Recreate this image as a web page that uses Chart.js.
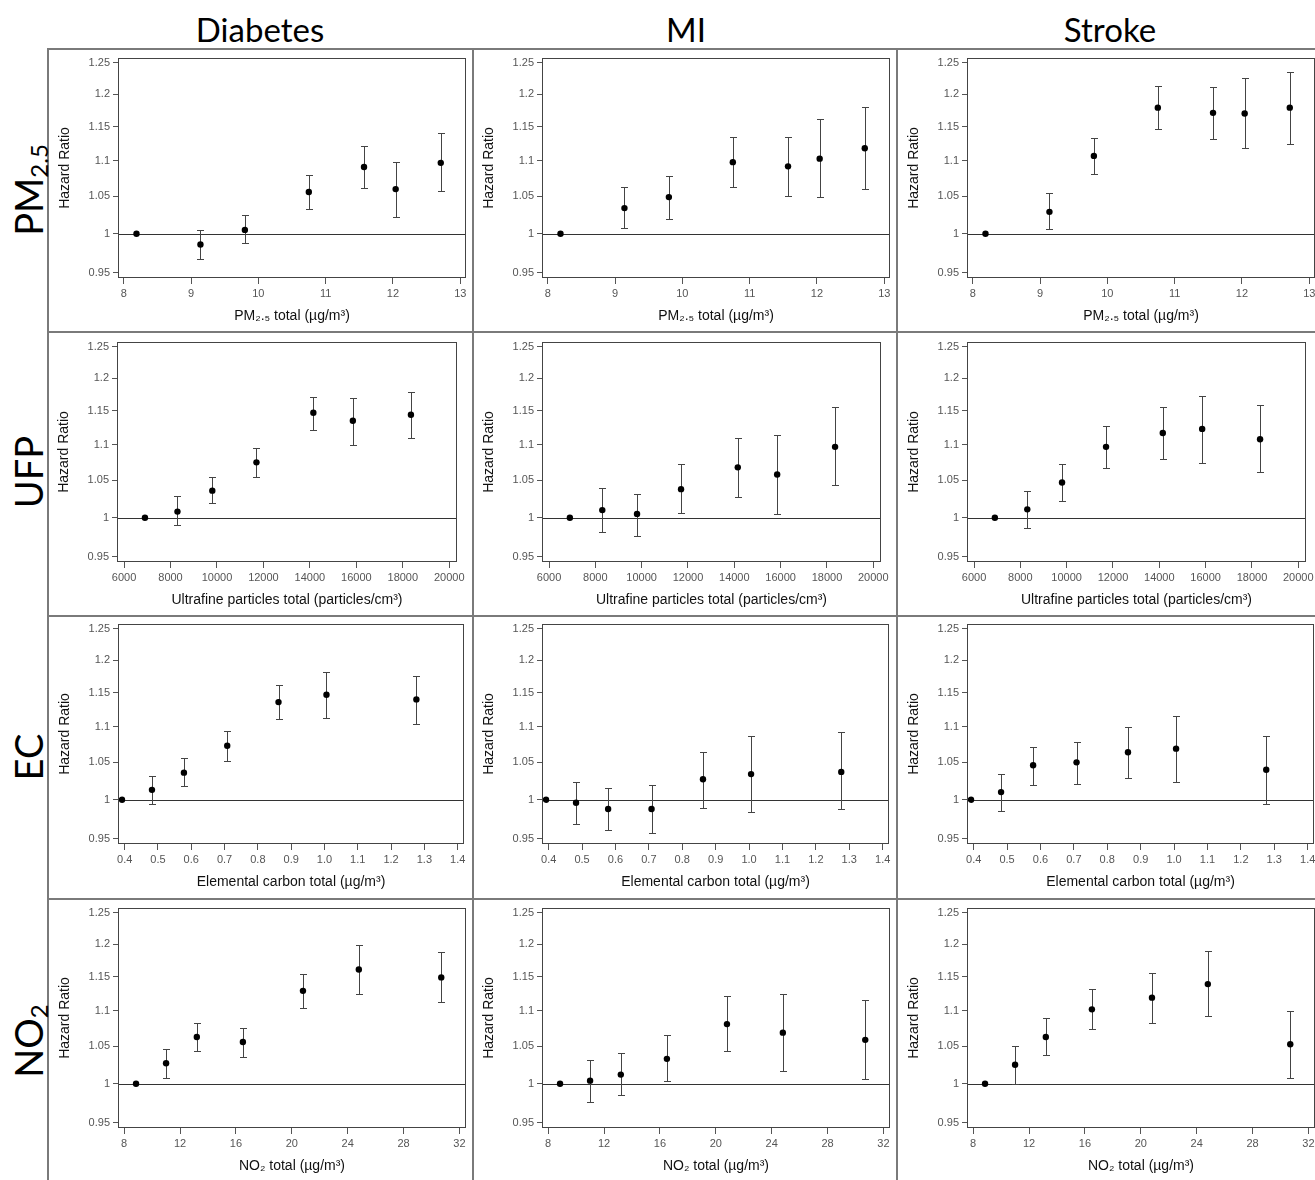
<!DOCTYPE html>
<html><head><meta charset="utf-8">
<script src="https://cdn.jsdelivr.net/npm/chart.js@4.4.1/dist/chart.umd.min.js"></script>
<style>
html,body{margin:0;padding:0;background:#fff;overflow:hidden;}
#page{position:relative;width:1315px;height:1180px;overflow:hidden;background:#fff;}
.hdr{position:absolute;top:11px;font-family:Lato,'Open Sans',sans-serif;font-size:33px;line-height:36px;color:#000;transform:translateX(-50%);white-space:nowrap;}
.rowlab{position:absolute;font-family:Lato,'Open Sans',sans-serif;font-size:38px;line-height:40px;color:#000;white-space:nowrap;transform:translate(-50%,-50%) rotate(-90deg);}
.rowlab sub{font-size:24px;vertical-align:-5px;line-height:0;}
.hl{position:absolute;height:2px;background:#7a7a7a;}
.vl{position:absolute;width:2px;background:#7a7a7a;}
canvas{position:absolute;}
</style></head>
<body><div id="page"></div>
<script>
// ---------- categories / labels ----------
const outcomes = ['Diabetes', 'MI', 'Stroke'];
const exposureRowLabels = ['PM<sub>2.5</sub>', 'UFP', 'EC', 'NO<sub>2</sub>'];
const xTitles = ['PM\u2082.\u2085 total (\u00b5g/m\u00b3)', 'Ultrafine particles total (particles/cm\u00b3)', 'Elemental carbon total (\u00b5g/m\u00b3)', 'NO\u2082 total (\u00b5g/m\u00b3)'];
const yTitle = 'Hazard Ratio';

// ---------- tick values / labels ----------
const yTickValues = [0.95, 1, 1.05, 1.1, 1.15, 1.2, 1.25];
const yTickLabels = ['0.95', '1', '1.05', '1.1', '1.15', '1.2', '1.25'];
const pm25Ticks = [8, 9, 10, 11, 12, 13];
const pm25TickLabels = ['8', '9', '10', '11', '12', '13'];
const ufpTicks = [6000, 8000, 10000, 12000, 14000, 16000, 18000, 20000];
const ufpTickLabels = ['6000', '8000', '10000', '12000', '14000', '16000', '18000', '20000'];
const ecTicks = [0.4, 0.5, 0.6, 0.7, 0.8, 0.9, 1.0, 1.1, 1.2, 1.3, 1.4];
const ecTickLabels = ['0.4', '0.5', '0.6', '0.7', '0.8', '0.9', '1.0', '1.1', '1.2', '1.3', '1.4'];
const no2Ticks = [8, 12, 16, 20, 24, 28, 32];
const no2TickLabels = ['8', '12', '16', '20', '24', '28', '32'];

// ---------- exposure levels (x) ----------
const pm25X = [8.19, 9.14, 9.80, 10.75, 11.57, 12.04, 12.71];
const ufpX = [6900, 8300, 9800, 11700, 14150, 15850, 18350];
const ecX = [0.392, 0.482, 0.578, 0.708, 0.862, 1.006, 1.276];
const no2X = [8.85, 11.0, 13.2, 16.5, 20.8, 24.8, 30.7];

// ---------- hazard ratios, lower and upper CI ----------
const diabetesPm25HR = [1, 0.986, 1.005, 1.056, 1.091, 1.060, 1.097];
const diabetesPm25Lo = [1, 0.968, 0.988, 1.033, 1.062, 1.022, 1.057];
const diabetesPm25Hi = [1, 1.005, 1.025, 1.080, 1.121, 1.098, 1.140];
const miPm25HR = [1, 1.034, 1.049, 1.098, 1.092, 1.103, 1.118];
const miPm25Lo = [1, 1.007, 1.020, 1.063, 1.050, 1.049, 1.060];
const miPm25Hi = [1, 1.063, 1.078, 1.134, 1.135, 1.162, 1.180];
const strokePm25HR = [1, 1.029, 1.107, 1.179, 1.171, 1.170, 1.179];
const strokePm25Lo = [1, 1.006, 1.081, 1.146, 1.131, 1.118, 1.124];
const strokePm25Hi = [1, 1.055, 1.133, 1.213, 1.212, 1.225, 1.235];

const diabetesUfpHR = [1, 1.008, 1.036, 1.075, 1.147, 1.135, 1.144];
const diabetesUfpLo = [1, 0.990, 1.019, 1.055, 1.122, 1.100, 1.110];
const diabetesUfpHi = [1, 1.029, 1.055, 1.095, 1.171, 1.169, 1.179];
const miUfpHR = [1, 1.010, 1.005, 1.038, 1.068, 1.058, 1.097];
const miUfpLo = [1, 0.982, 0.976, 1.006, 1.028, 1.005, 1.044];
const miUfpHi = [1, 1.040, 1.032, 1.073, 1.110, 1.114, 1.155];
const strokeUfpHR = [1, 1.011, 1.047, 1.097, 1.117, 1.123, 1.108];
const strokeUfpLo = [1, 0.987, 1.022, 1.067, 1.080, 1.074, 1.061];
const strokeUfpHi = [1, 1.036, 1.073, 1.128, 1.155, 1.173, 1.159];

const diabetesEcHR = [1, 1.013, 1.036, 1.073, 1.136, 1.147, 1.140];
const diabetesEcLo = [1, 0.994, 1.018, 1.052, 1.111, 1.113, 1.104];
const diabetesEcHi = [1, 1.032, 1.056, 1.094, 1.161, 1.182, 1.176];
const miEcHR = [1, 0.996, 0.988, 0.988, 1.027, 1.034, 1.037];
const miEcLo = [1, 0.969, 0.961, 0.958, 0.989, 0.984, 0.988];
const miEcHi = [1, 1.024, 1.016, 1.020, 1.064, 1.087, 1.092];
const strokeEcHR = [1, 1.010, 1.046, 1.050, 1.064, 1.069, 1.040];
const strokeEcLo = [1, 0.986, 1.020, 1.021, 1.029, 1.023, 0.994];
const strokeEcHi = [1, 1.034, 1.071, 1.079, 1.099, 1.115, 1.087];

const diabetesNo2HR = [1, 1.027, 1.063, 1.056, 1.129, 1.161, 1.149];
const diabetesNo2Lo = [1, 1.007, 1.044, 1.035, 1.104, 1.125, 1.113];
const diabetesNo2Hi = [1, 1.046, 1.082, 1.076, 1.154, 1.198, 1.187];
const miNo2HR = [1, 1.004, 1.012, 1.033, 1.081, 1.069, 1.059];
const miNo2Lo = [1, 0.977, 0.986, 1.003, 1.043, 1.017, 1.006];
const miNo2Hi = [1, 1.032, 1.041, 1.066, 1.121, 1.124, 1.115];
const strokeNo2HR = [1, 1.025, 1.063, 1.102, 1.119, 1.139, 1.053];
const strokeNo2Lo = [1, 1.000, 1.038, 1.074, 1.083, 1.092, 1.007];
const strokeNo2Hi = [1, 1.050, 1.089, 1.132, 1.155, 1.189, 1.100];

// ---------- assembly ----------
const rowsX = [pm25X, ufpX, ecX, no2X];
const rowsTicks = [pm25Ticks, ufpTicks, ecTicks, no2Ticks];
const rowsTickLabels = [pm25TickLabels, ufpTickLabels, ecTickLabels, no2TickLabels];
const rowsXRange = [[7.93, 13.07], [5740, 20290], [0.383, 1.416], [7.63, 32.4]];
const yRange = [0.9438, 1.258];
const series = [
  [[diabetesPm25HR, diabetesPm25Lo, diabetesPm25Hi], [miPm25HR, miPm25Lo, miPm25Hi], [strokePm25HR, strokePm25Lo, strokePm25Hi]],
  [[diabetesUfpHR, diabetesUfpLo, diabetesUfpHi], [miUfpHR, miUfpLo, miUfpHi], [strokeUfpHR, strokeUfpLo, strokeUfpHi]],
  [[diabetesEcHR, diabetesEcLo, diabetesEcHi], [miEcHR, miEcLo, miEcHi], [strokeEcHR, strokeEcLo, strokeEcHi]],
  [[diabetesNo2HR, diabetesNo2Lo, diabetesNo2Hi], [miNo2HR, miNo2Lo, miNo2Hi], [strokeNo2HR, strokeNo2Lo, strokeNo2Hi]],
];

// ---------- layout (plot-box left, top, right, bottom) ----------
const boxes = [
  [[119, 58, 465, 278], [543, 58, 889, 278], [968, 58, 1314, 278]],
  [[118, 342, 456, 562], [543, 342, 880, 562], [968, 342, 1305, 562]],
  [[119, 624, 463, 844], [543, 624, 888, 844], [968, 624, 1313, 844]],
  [[119, 908, 465, 1128], [543, 908, 889, 1128], [968, 908, 1314, 1128]],
];
const headerCenters = [260, 686, 1110];
const rowCenters = [190, 472, 757, 1041];

const page = document.getElementById('page');
function addDiv(cls, style, html) {
  const d = document.createElement('div');
  d.className = cls;
  Object.assign(d.style, style);
  if (html !== undefined) d.innerHTML = html;
  page.appendChild(d);
  return d;
}
// frame lines
addDiv('hl', {left: '48px', top: '48px', width: '1267px'});
[331, 615, 898].forEach(y => addDiv('hl', {left: '48px', top: y + 'px', width: '1267px'}));
[47, 472, 896].forEach(x => addDiv('vl', {left: x + 'px', top: '48px', height: '1132px'}));
// headers and row labels
outcomes.forEach((t, i) => addDiv('hdr', {left: headerCenters[i] + 'px'}, t));
exposureRowLabels.forEach((t, i) => addDiv('rowlab', {left: '28px', top: rowCenters[i] + 'px'}, t));

Chart.defaults.font.family = "'Liberation Sans', Arial, sans-serif";

const panelPlugin = {
  id: 'panel',
  beforeDatasetsDraw(chart) {
    const {ctx, chartArea: a, scales: {x, y}} = chart;
    const ds = chart.data.datasets[0];
    ctx.save();
    const y1 = Math.round(y.getPixelForValue(1)) + 0.5;
    ctx.strokeStyle = '#333';
    ctx.lineWidth = 1;
    ctx.beginPath();
    ctx.moveTo(a.left, y1);
    ctx.lineTo(a.right, y1);
    ctx.stroke();
    ctx.strokeStyle = '#444';
    ds.data.forEach((p, i) => {
      const lo = ds.lo[i], hi = ds.hi[i];
      if (lo === hi) return;
      const px = Math.round(x.getPixelForValue(p.x)) + 0.5;
      const pl = Math.round(y.getPixelForValue(lo)) + 0.5;
      const ph = Math.round(y.getPixelForValue(hi)) + 0.5;
      ctx.beginPath();
      ctx.moveTo(px, pl); ctx.lineTo(px, ph);
      ctx.moveTo(px - 3.5, pl); ctx.lineTo(px + 3.5, pl);
      ctx.moveTo(px - 3.5, ph); ctx.lineTo(px + 3.5, ph);
      ctx.stroke();
    });
    ctx.restore();
  },
  afterDraw(chart) {
    const {ctx, chartArea: a} = chart;
    ctx.save();
    ctx.strokeStyle = '#444';
    ctx.lineWidth = 1;
    ctx.strokeRect(Math.round(a.left) - 0.5, Math.round(a.top) + 0.5, Math.round(a.right - a.left) + 1, Math.round(a.bottom - a.top) - 1);
    ctx.restore();
  }
};

const Y_W = 72, X_H = 50, PAD_T = 8, PAD_R = 12;
for (let r = 0; r < 4; r++) {
  for (let c = 0; c < 3; c++) {
    const [L, T, R, B] = boxes[r][c];
    const cv = document.createElement('canvas');
    const w = Y_W + (R - L) + PAD_R, h = PAD_T + (B - T) + X_H;
    cv.width = w; cv.height = h;
    cv.style.left = (L - Y_W) + 'px';
    cv.style.top = (T - PAD_T) + 'px';
    cv.style.width = w + 'px';
    cv.style.height = h + 'px';
    page.appendChild(cv);
    const [hr, lo, hi] = series[r][c];
    const xs = rowsX[r];
    const ticks = rowsTicks[r], tickLabels = rowsTickLabels[r];
    new Chart(cv, {
      type: 'scatter',
      data: {datasets: [{
        data: xs.map((x, i) => ({x: x, y: hr[i]})),
        lo: lo, hi: hi,
        pointRadius: 3.2, pointHoverRadius: 3.2, pointBorderWidth: 0,
        pointBackgroundColor: '#000', pointBorderColor: '#000', showLine: false
      }]},
      options: {
        responsive: false, animation: false, devicePixelRatio: 1, events: [],
        layout: {padding: {top: PAD_T, left: 0, right: PAD_R, bottom: 0}, autoPadding: false},
        plugins: {legend: {display: false}, tooltip: {enabled: false}},
        scales: {
          x: {
            type: 'linear', bounds: 'data', min: rowsXRange[r][0], max: rowsXRange[r][1],
            afterBuildTicks: s => { s.ticks = ticks.map(v => ({value: v})); },
            afterFit: s => { s.height = X_H; s.paddingLeft = 0; s.paddingRight = 0; },
            ticks: {
              autoSkip: false, maxRotation: 0, minRotation: 0, padding: 3, color: '#555',
              font: {size: 11},
              callback: v => { const i = ticks.indexOf(v); return i >= 0 ? tickLabels[i] : ''; }
            },
            grid: {drawOnChartArea: false, drawTicks: true, tickLength: 6, color: '#555'},
            border: {display: false},
            title: {display: true, text: xTitles[r], color: '#111', font: {size: 14}, padding: {top: 0, bottom: 3}}
          },
          y: {
            type: 'logarithmic', bounds: 'data', min: yRange[0], max: yRange[1],
            afterBuildTicks: s => { s.ticks = yTickValues.map(v => ({value: v})); },
            afterFit: s => { s.width = Y_W; s.paddingTop = 0; s.paddingBottom = 0; },
            ticks: {
              autoSkip: false, padding: 3, color: '#555', font: {size: 11},
              callback: v => { const i = yTickValues.indexOf(v); return i >= 0 ? yTickLabels[i] : ''; }
            },
            grid: {drawOnChartArea: false, drawTicks: true, tickLength: 6, color: '#555'},
            border: {display: false},
            title: {display: true, text: yTitle, color: '#111', font: {size: 14}, padding: {top: 10, bottom: 0}}
          }
        }
      },
      plugins: [panelPlugin]
    });
  }
}
</script>
</body></html>
